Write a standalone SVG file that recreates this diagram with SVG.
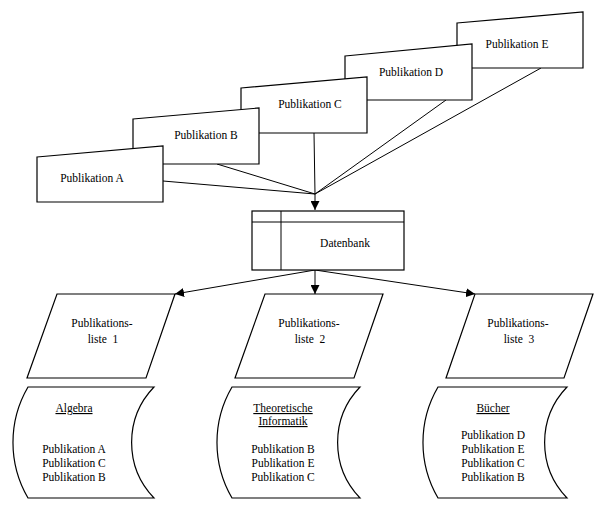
<svg xmlns="http://www.w3.org/2000/svg" width="604" height="510" viewBox="0 0 604 510" font-family="Liberation Serif" font-size="11.5">
<defs>
<marker id="arr" viewBox="0 0 10 10" refX="10" refY="5" markerWidth="9" markerHeight="9" markerUnits="userSpaceOnUse" orient="auto">
<path d="M0,0 L10,5 L0,10 Z" fill="#000"/>
</marker>
</defs>
<style>
.s{fill:#fff;stroke:#000;stroke-width:1.2}
.c{fill:none;stroke:#000;stroke-width:1}
text{fill:#000;text-anchor:middle;white-space:pre}
.u{text-decoration:underline}
</style>
<rect width="604" height="510" fill="#fff"/>
<g id="connectors">
<line class="c" x1="163" y1="181" x2="315" y2="194"/>
<line class="c" x1="217" y1="164" x2="315" y2="194"/>
<line class="c" x1="314" y1="133" x2="315" y2="194"/>
<line class="c" x1="446" y1="100" x2="315" y2="194"/>
<line class="c" x1="541" y1="68" x2="315" y2="194"/>
<line class="c" x1="315" y1="194" x2="315" y2="210" marker-end="url(#arr)"/>
<line class="c" x1="315" y1="270" x2="175" y2="294" marker-end="url(#arr)"/>
<line class="c" x1="315" y1="270" x2="315" y2="294" marker-end="url(#arr)"/>
<line class="c" x1="315" y1="270" x2="475" y2="294" marker-end="url(#arr)"/>
</g>
<g id="pubE"><path class="s" d="M457,23 L583,12 L583,68 L457,68 Z"/><text x="517" y="48">Publikation E</text></g>
<g id="pubD"><path class="s" d="M345,56 L472,44 L472,100 L345,100 Z"/><text x="411" y="76">Publikation D</text></g>
<g id="pubC"><path class="s" d="M241,88 L367,77 L367,133 L241,133 Z"/><text x="310" y="108">Publikation C</text></g>
<g id="pubB"><path class="s" d="M133,119 L259,108 L259,164 L133,164 Z"/><text x="206" y="139">Publikation B</text></g>
<g id="pubA"><path class="s" d="M37,157 L163,146 L163,202 L37,202 Z"/><text x="92" y="182">Publikation A</text></g>
<g id="datenbank">
<rect class="s" x="252" y="211" width="152" height="59"/>
<line class="c" x1="252" y1="222" x2="404" y2="222"/>
<line class="c" x1="281" y1="211" x2="281" y2="270"/>
<text x="345" y="247">Datenbank</text>
</g>
<g id="liste1"><path class="s" d="M57,294 L175,294 L146,378 L27,378 Z"/><text x="102" y="327">Publikations-</text><text x="103" y="343">liste  1</text></g>
<g id="liste2"><path class="s" d="M265,294 L383,294 L354,378 L235,378 Z"/><text x="309" y="327">Publikations-</text><text x="310" y="343">liste  2</text></g>
<g id="liste3"><path class="s" d="M475,294 L593,294 L564,378 L446,378 Z"/><text x="518" y="327">Publikations-</text><text x="519" y="343">liste  3</text></g>
<g id="store1">
<path class="s" d="M28,387 L154,387 A80,80 0 0 0 154,498 L28,498 A110,110 0 0 1 28,387 Z"/>
<text x="74" y="412" class="u">Algebra</text>
<text x="74" y="453">Publikation A</text><text x="74" y="467">Publikation C</text><text x="74" y="481">Publikation B</text>
</g>
<g id="store2">
<path class="s" d="M232,387 L360,387 A80,80 0 0 0 360,498 L232,498 A110,110 0 0 1 232,387 Z"/>
<text x="283" y="412" class="u">Theoretische</text><text x="283" y="425" class="u">Informatik</text>
<text x="283" y="453">Publikation B</text><text x="283" y="467">Publikation E</text><text x="283" y="481">Publikation C</text>
</g>
<g id="store3">
<path class="s" d="M438,387 L567,387 A80,80 0 0 0 567,498 L438,498 A110,110 0 0 1 438,387 Z"/>
<text x="493" y="412" class="u">Bücher</text>
<text x="493" y="439">Publikation D</text><text x="493" y="453">Publikation E</text><text x="493" y="467">Publikation C</text><text x="493" y="481">Publikation B</text>
</g>
</svg>
